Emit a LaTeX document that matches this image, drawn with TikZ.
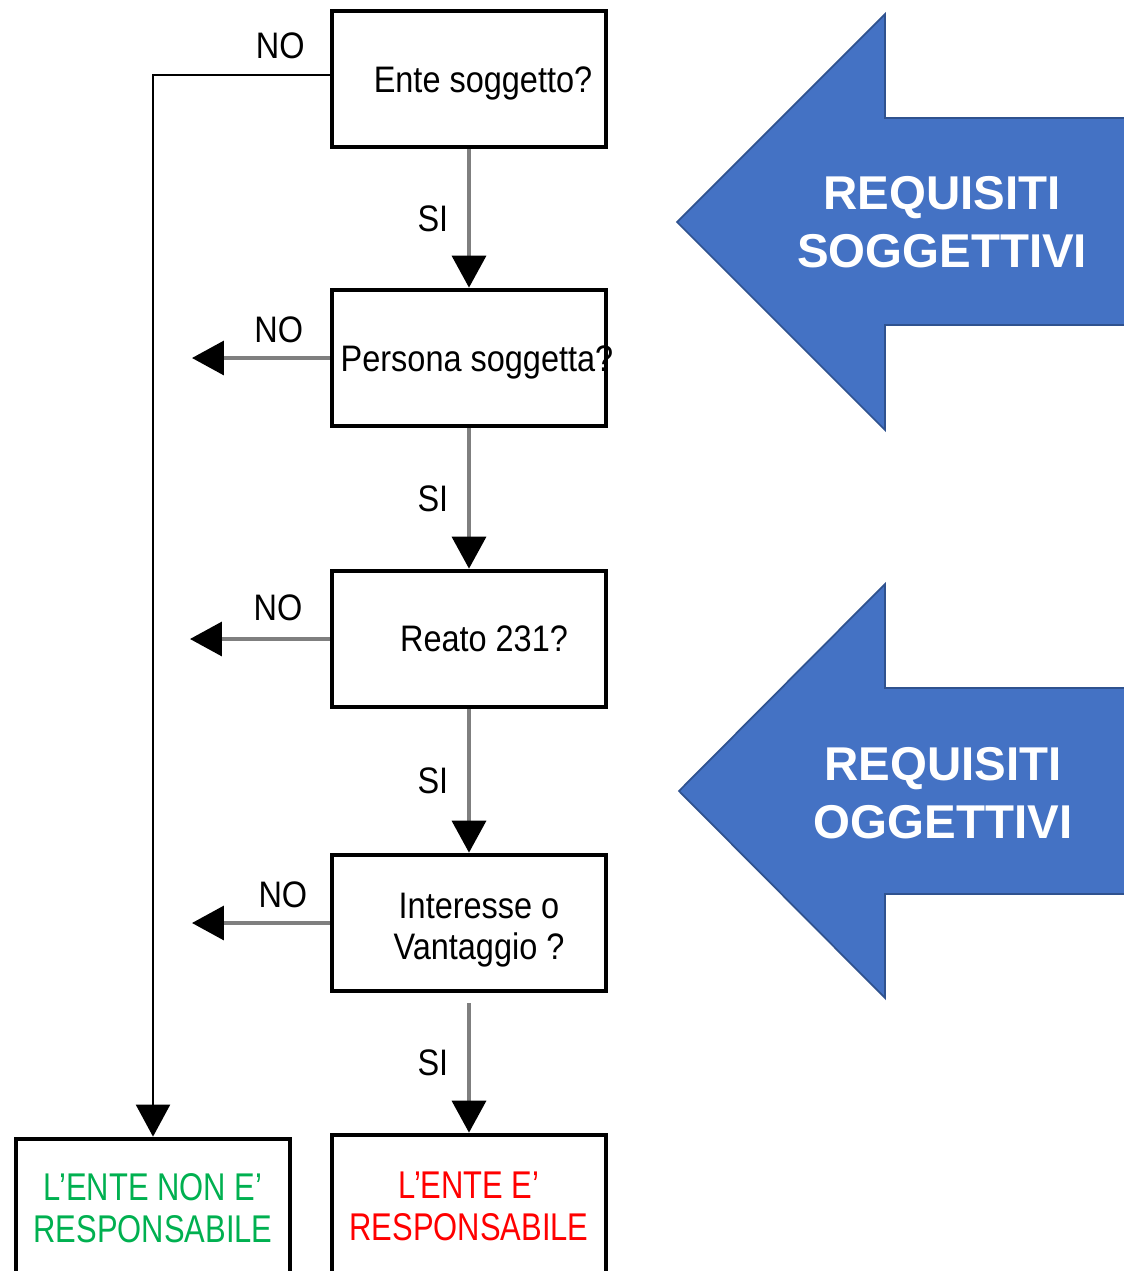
\documentclass[tikz,border=0pt]{standalone}
\usepackage{fontspec}
\setsansfont{Liberation Sans}
\newfontfamily\narrowfont{Liberation Sans}[FakeStretch=0.88]
\newfontfamily\esitofont{Liberation Sans}[FakeStretch=0.8]
\usepackage{tikz}
\usetikzlibrary{arrows.meta}
\definecolor{freccia}{HTML}{4472C4}
\definecolor{bordofreccia}{HTML}{2F528F}
\definecolor{verde}{HTML}{00B050}
\definecolor{rosso}{HTML}{FF0000}
\definecolor{grigio}{HTML}{7F7F7F}

\begin{document}
\begin{tikzpicture}[x=0.02cm,y=-0.02cm,
  box/.style={draw, line width=2.7pt, minimum width=5.48cm, minimum height=2.72cm, inner sep=0pt},
  boxfine/.style={box, minimum height=3cm},
  testo/.style={font=\narrowfont\fontsize{21}{23.5}\selectfont, inner sep=0pt, align=center},
  esito/.style={font=\esitofont\fontsize{22}{23.8}\selectfont, inner sep=0pt, align=center},
  req/.style={font=\sffamily\bfseries\fontsize{27}{33}\selectfont, text=white, align=center, inner sep=0pt},
  etichetta/.style={font=\narrowfont\fontsize{21}{23.5}\selectfont, inner sep=0pt},
  si/.style={draw=grigio, line width=2pt, -{Triangle[length=0.64cm,width=0.68cm,color=black]}},
  ramo/.style={draw=black, line width=1.2pt, -{Triangle[length=0.64cm,width=0.68cm,color=black]}},
  blocco/.style={fill=freccia, draw=bordofreccia, line width=1pt}]

\useasboundingbox (0,0) rectangle (1124,1271);
\clip (0,0) rectangle (1124,1271);

% domande
\node[box] (q1) at (469,79) {};
\node[box] (q2) at (469,358) {};
\node[box] (q3) at (469,639) {};
\node[box] (q4) at (469,923) {};
\node[testo, anchor=base] (t1) at (483,92) {Ente soggetto?};
\node[testo, anchor=base] (t2) at (477,371) {Persona soggetta?};
\node[testo, anchor=base] (t3) at (484,651) {Reato 231?};
\node[testo] (t4) at (479,930) {Interesse o\\Vantaggio ?};

% esiti
\node[boxfine] (r5) at (153,1214) {};
\node[boxfine] (r6) at (469,1210) {};
\node[esito, text=verde] (e5) at (153,1208) {L’ENTE NON E’\\RESPONSABILE};
\node[esito, text=rosso] (e6) at (469,1206) {L’ENTE E’\\RESPONSABILE};

% rami NO
\coordinate (n2) at (192,358);
\coordinate (n3) at (190,639);
\coordinate (n4) at (192,923);
\draw[ramo] ([yshift=0.08cm]q1.west) -- node[etichetta, pos=0.28, above=0.3cm] {NO} ([yshift=0.08cm]q1.west -| r5.north) -- (r5.north);
\draw[si] (q2.west) -- node[etichetta, pos=0.37, above=0.27cm] {NO} (q2.west -| n2);
\draw[si] (q3.west) -- node[etichetta, pos=0.37, above=0.33cm] {NO} (q3.west -| n3);
\draw[si] (q4.west) -- node[etichetta, pos=0.34, above=0.26cm] {NO} (q4.west -| n4);

% rami SI
\draw[si] (q1.south) -- node[etichetta, midway, left=0.38cm] {SI} (q2.north);
\draw[si] (q2.south) -- node[etichetta, midway, left=0.38cm] {SI} (q3.north);
\draw[si] (q3.south) -- node[etichetta, midway, left=0.38cm] {SI} (q4.north);
\draw[si, shorten <=0.2cm] (q4.south) -- node[etichetta, midway, left=0.38cm] {SI} (r6.north);

% frecce blu
\draw[blocco] (677,222) -- (885,14) -- (885,118) -- (1130,118) -- (1130,325) -- (885,325) -- (885,430) -- cycle;
\draw[blocco] (679,791) -- (885,584) -- (885,688) -- (1130,688) -- (1130,894) -- (885,894) -- (885,998) -- cycle;
\node[req] (a1) at (942,222) {REQUISITI\\SOGGETTIVI};
\node[req] (a2) at (943,793) {REQUISITI\\OGGETTIVI};

\end{tikzpicture}
\end{document}
